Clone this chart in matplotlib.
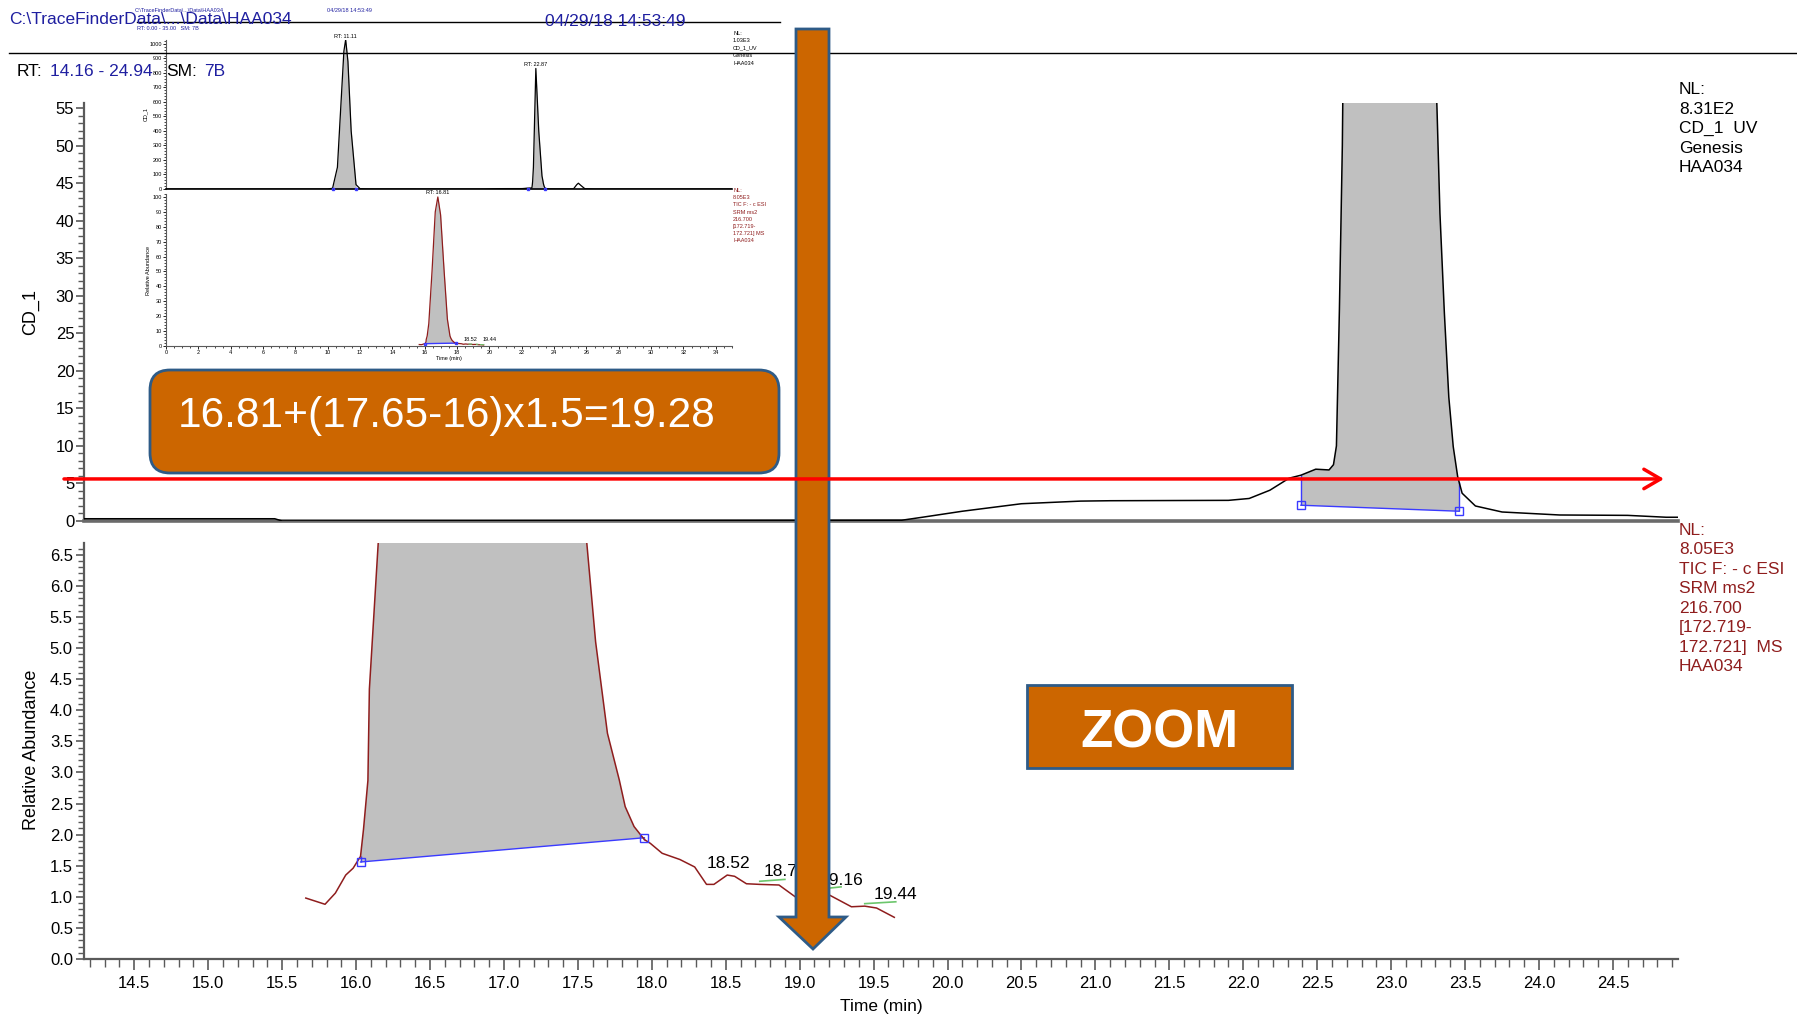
import numpy as np
import matplotlib
matplotlib.use("Agg")
import matplotlib.pyplot as plt
from matplotlib.lines import Line2D
from matplotlib.patches import FancyArrowPatch, FancyBboxPatch, Polygon, Rectangle
from matplotlib.ticker import FormatStrFormatter, MultipleLocator
from matplotlib.transforms import blended_transform_factory

# CD_1 UV trace (min, signal); the 22.87 peak goes far off the zoomed scale
cd1_time = [0.0, 10.0, 10.3, 10.6, 10.85, 11.0, 11.11, 11.25, 11.45, 11.75, 12.0, 12.5,
            14.16, 15.45, 15.5, 19.69, 19.83, 20.10, 20.50, 20.90, 21.10, 21.90, 22.04,
            22.18, 22.31, 22.39, 22.49, 22.58, 22.61, 22.63, 22.65, 22.67, 22.72, 22.87,
            23.05, 23.25, 23.31, 23.33, 23.36, 23.39, 23.42, 23.45, 23.48, 23.57, 23.75,
            24.14, 24.60, 24.86, 24.94, 25.2, 25.4, 25.5, 25.65, 25.9, 26.5, 35.0]
cd1_value = [0.0, 0.0, 5, 150, 650, 950, 1030, 880, 400, 30, 2, 0.3,
             0.3, 0.3, 0.0, 0.1, 0.5, 1.3, 2.3, 2.65, 2.7, 2.75, 3.0,
             4.1, 5.7, 6.1, 6.9, 6.8, 7.5, 10, 28, 50, 150, 831,
             400, 90, 55, 41, 27.7, 16.5, 9.9, 5.9, 3.7, 2.0, 1.2,
             0.8, 0.75, 0.5, 0.5, 1, 30, 40, 25, 2, 0, 0]

# TIC F: - c ESI SRM ms2 216.700 trace (min, relative abundance)
tic_time = [15.66, 15.79, 15.86, 15.93, 15.98, 16.03, 16.05, 16.08, 16.09, 16.15, 16.25,
            16.45, 16.65, 16.81, 16.98, 17.2, 17.4, 17.56, 17.62, 17.70, 17.78, 17.82,
            17.88, 17.95, 17.99, 18.07, 18.19, 18.29, 18.37, 18.42, 18.51, 18.56, 18.64,
            18.73, 18.86, 18.97, 19.08, 19.20, 19.35, 19.44, 19.52, 19.64]
tic_value = [0.98, 0.88, 1.06, 1.35, 1.46, 1.65, 2.08, 2.87, 4.34, 6.7, 15,
             50, 90, 100, 88, 50, 18, 6.7, 5.10, 3.63, 2.88, 2.45,
             2.13, 1.92, 1.86, 1.70, 1.60, 1.48, 1.20, 1.20, 1.35, 1.33, 1.21,
             1.20, 1.19, 1.00, 1.05, 1.03, 0.84, 0.85, 0.82, 0.67]

# integrated peaks: (start, start baseline, end, end baseline)
cd1_peak = (22.39, 2.1, 23.46, 1.3)
tic_peak = (16.03, 1.56, 17.95, 1.95)
inset_cd1_peaks = [(10.3, 0.0, 11.75, 0.0), (22.39, 0.0, 23.46, 0.0)]

# small labelled peaks in the TIC zoom
minor_labels = ["18.52", "18.75", "19.16", "19.44"]
minor_label_x = [18.52, 18.905, 19.28, 19.65]
minor_label_y = [1.53, 1.40, 1.27, 1.03]
green_x0 = [18.73, 19.20, 19.44]
green_x1 = [18.90, 19.28, 19.65]
green_y0 = [1.25, 1.14, 0.89]
green_y1 = [1.28, 1.16, 0.92]

threshold = 5.6
x_range = (14.16, 24.94)

W, H = 1797, 1018
BLUE_TXT = "#1f1fa0"
DARK_RED = "#8f1d1d"
ORANGE = "#cc6600"
EDGE = "#2e5b87"
FILL = "#c0c0c0"
PEAK_BLUE = "#3a3aff"
GREEN = "#6cc66c"
SPINE = "#5a5a5a"

plt.rcParams["font.family"] = ["Liberation Sans", "DejaVu Sans"]


def fx(x):
    return x / W


def fy(y):
    return 1 - y / H


def rect(left, top, right, bottom):
    return [fx(left), fy(bottom), (right - left) / W, (bottom - top) / H]


def inch(x, y):
    return (x / 100, (H - y) / 100)


def fill_peak(ax, t, v, peak, marker_size=6, verticals=True):
    x0, y0, x1, y1 = peak
    t = np.asarray(t, dtype=float)
    v = np.asarray(v, dtype=float)
    inside = (t > x0) & (t < x1)
    xs = np.concatenate([[x0], t[inside], [x1]])
    ys = np.interp(xs, t, v)
    base = np.interp(xs, [x0, x1], [y0, y1])
    ax.fill_between(xs, base, ys, color=FILL, lw=0, zorder=1)
    ax.plot([x0, x1], [y0, y1], color=PEAK_BLUE, lw=1, zorder=2)
    if verticals:
        ax.vlines([x0, x1], [y0, y1], np.interp([x0, x1], t, v), color=PEAK_BLUE, lw=1, zorder=2)
    ax.plot([x0, x1], [y0, y1], ls="none", marker="s", mfc="none", mec=PEAK_BLUE,
            ms=marker_size, mew=1, zorder=4, clip_on=False)


def style_axes(ax, lw=1.6):
    for side in ("top", "right"):
        ax.spines[side].set_visible(False)
    for side in ("left", "bottom"):
        ax.spines[side].set_color(SPINE)
        ax.spines[side].set_linewidth(lw)


fig = plt.figure(figsize=(W / 100, H / 100), dpi=100)

# ---- upper panel: CD_1 zoom ----
ax_cd = fig.add_axes(rect(84, 103, 1678, 521))
fill_peak(ax_cd, cd1_time, cd1_value, cd1_peak)
ax_cd.plot(cd1_time, cd1_value, color="black", lw=1.1, zorder=3)
ax_cd.set_xlim(*x_range)
ax_cd.set_ylim(0, 55.67)
style_axes(ax_cd)
ax_cd.spines["bottom"].set_linewidth(2.6)
ax_cd.spines["bottom"].set_color("#6a6a6a")
ax_cd.yaxis.set_major_locator(MultipleLocator(5))
ax_cd.yaxis.set_minor_locator(MultipleLocator(1))
ax_cd.tick_params(axis="x", bottom=False, labelbottom=False)
ax_cd.tick_params(axis="y", which="major", length=6, width=1.2, color=SPINE, labelsize=12, pad=1)
ax_cd.tick_params(axis="y", which="minor", length=4.5, width=1.0, color=SPINE)

# ---- lower panel: TIC zoom ----
ax_ms = fig.add_axes(rect(84, 543, 1678, 959))
fill_peak(ax_ms, tic_time, tic_value, tic_peak)
ax_ms.plot(tic_time, tic_value, color=DARK_RED, lw=1.1, zorder=3)
for xa, xb, ya, yb in zip(green_x0, green_x1, green_y0, green_y1):
    ax_ms.plot([xa, xb], [ya, yb], color=GREEN, lw=1.2, zorder=3)
for lab, lx, ly in zip(minor_labels, minor_label_x, minor_label_y):
    ax_ms.text(lx, ly, lab, ha="center", va="center", fontsize=12.5, zorder=4)
ax_ms.set_xlim(*x_range)
ax_ms.set_ylim(0, 6.69)
style_axes(ax_ms)
ax_ms.yaxis.set_major_locator(MultipleLocator(0.5))
ax_ms.yaxis.set_minor_locator(MultipleLocator(0.1))
ax_ms.yaxis.set_major_formatter(FormatStrFormatter("%.1f"))
ax_ms.xaxis.set_major_locator(MultipleLocator(0.5))
ax_ms.xaxis.set_minor_locator(MultipleLocator(0.1))
ax_ms.xaxis.set_major_formatter(FormatStrFormatter("%.1f"))
ax_ms.tick_params(axis="y", which="major", length=6, width=1.2, color=SPINE, labelsize=12, pad=2)
ax_ms.tick_params(axis="y", which="minor", length=4.5, width=1.0, color=SPINE)
ax_ms.tick_params(axis="x", which="major", length=8, width=1.2, color=SPINE, labelsize=12, pad=4)
ax_ms.tick_params(axis="x", which="minor", length=5.5, width=1.0, color=SPINE)

fig.text(fx(31), fy(312), "CD_1", rotation=90, ha="center", va="center", fontsize=13)
fig.text(fx(31), fy(750), "Relative Abundance", rotation=90, ha="center", va="center", fontsize=13)
fig.text(fx(881), fy(1006), "Time (min)", ha="center", va="center", fontsize=12.5)

# ---- inset: full 0-35 min chromatograms ----
ax_in1 = fig.add_axes(rect(166, 39.6, 732, 189))
for pk in inset_cd1_peaks:
    fill_peak(ax_in1, cd1_time, cd1_value, pk, marker_size=2, verticals=False)
ax_in1.plot(cd1_time, cd1_value, color="black", lw=0.9, zorder=3)
ax_in1.set_xlim(0, 35)
ax_in1.set_ylim(0, 1030)
style_axes(ax_in1, lw=0.8)
ax_in1.spines["bottom"].set_color("black")
ax_in1.spines["bottom"].set_linewidth(1.2)
ax_in1.yaxis.set_major_locator(MultipleLocator(100))
ax_in1.yaxis.set_minor_locator(MultipleLocator(20))
ax_in1.tick_params(axis="x", bottom=False, labelbottom=False)
ax_in1.tick_params(axis="y", which="major", length=2.2, width=0.6, labelsize=4, pad=0.5)
ax_in1.tick_params(axis="y", which="minor", length=1.2, width=0.5)
ax_in1.text(11.11, 1035, "RT: 11.11", ha="center", va="bottom", fontsize=4, clip_on=False)
ax_in1.text(22.87, 840, "RT: 22.87", ha="center", va="bottom", fontsize=4)
ax_in1.set_ylabel("CD_1", fontsize=4, labelpad=1)

ax_in2 = fig.add_axes(rect(166, 194, 732, 346))
fill_peak(ax_in2, tic_time, tic_value, tic_peak, marker_size=2, verticals=False)
ax_in2.plot(tic_time, tic_value, color=DARK_RED, lw=0.9, zorder=3)
for xa, xb, ya, yb in zip(green_x0, green_x1, green_y0, green_y1):
    ax_in2.plot([xa, xb], [ya, yb], color=GREEN, lw=0.8, zorder=3)
ax_in2.set_xlim(0, 35)
ax_in2.set_ylim(0, 102)
style_axes(ax_in2, lw=0.8)
ax_in2.yaxis.set_major_locator(MultipleLocator(10))
ax_in2.yaxis.set_minor_locator(MultipleLocator(2))
ax_in2.xaxis.set_major_locator(MultipleLocator(2))
ax_in2.xaxis.set_minor_locator(MultipleLocator(0.5))
ax_in2.tick_params(which="major", length=2.2, width=0.6, labelsize=4, pad=0.5)
ax_in2.tick_params(which="minor", length=1.2, width=0.5)
ax_in2.text(16.81, 101, "RT: 16.81", ha="center", va="bottom", fontsize=4, clip_on=False)
ax_in2.text(18.8, 2.5, "18.52", ha="center", va="bottom", fontsize=4)
ax_in2.text(20.0, 2.5, "19.44", ha="center", va="bottom", fontsize=4)
ax_in2.set_ylabel("Relative Abundance", fontsize=4, labelpad=1)
ax_in2.set_xlabel("Time (min)", fontsize=4, labelpad=1)

fig.text(fx(733), fy(31), "NL:\n1.03E3\nCD_1_UV\nGenesis\nHAA034", fontsize=4,
         ha="left", va="top", linespacing=1.6)
fig.text(fx(733), fy(188), "NL:\n8.05E3\nTIC F: - c ESI\nSRM ms2\n216.700\n[172.719-\n172.721] MS\nHAA034",
         fontsize=4, ha="left", va="top", linespacing=1.55, color=DARK_RED)
fig.text(fx(135), fy(10), r"C:\TraceFinderData\...\Data\HAA034", fontsize=4, color=BLUE_TXT, va="center")
fig.text(fx(327), fy(10), "04/29/18 14:53:49", fontsize=4, color=BLUE_TXT, va="center")
fig.text(fx(137), fy(28), "RT: 0.00 - 35.00   SM: 7B", fontsize=4, color=BLUE_TXT, va="center")

# ---- header ----
fig.text(fx(9), fy(20), r"C:\TraceFinderData\...\Data\HAA034", fontsize=12.5, color=BLUE_TXT, va="center")
fig.text(fx(615), fy(21), "04/29/18 14:53:49", fontsize=12.5, color=BLUE_TXT, va="center", ha="center")
fig.text(fx(17), fy(71), "RT:", fontsize=12.5, va="center")
fig.text(fx(50), fy(71), "14.16 - 24.94", fontsize=12.5, color=BLUE_TXT, va="center")
fig.text(fx(166), fy(71), "SM:", fontsize=12.5, va="center")
fig.text(fx(204), fy(71), "7B", fontsize=12.5, color=BLUE_TXT, va="center")
fig.add_artist(Line2D([fx(137), fx(780)], [fy(22), fy(22)], color="black", lw=1, zorder=2))
fig.add_artist(Line2D([fx(9), fx(1797)], [fy(53), fy(53)], color="black", lw=1, zorder=2))

fig.text(fx(1679), fy(82), "NL:\n8.31E2\nCD_1  UV\nGenesis\nHAA034", fontsize=12.5,
         ha="left", va="top", linespacing=1.38)
fig.text(fx(1679), fy(523), "NL:\n8.05E3\nTIC F: - c ESI\nSRM ms2\n216.700\n[172.719-\n172.721]  MS\nHAA034",
         fontsize=12.5, ha="left", va="top", linespacing=1.37, color=DARK_RED)

# ---- annotations: big arrow, formula box, ZOOM box, threshold line ----
arrow_px = [(796, 29), (829, 29), (829, 917), (846, 917), (813, 949), (779, 917), (796, 917)]
fig.patches.append(Polygon([inch(x, y) for x, y in arrow_px], closed=True, facecolor=ORANGE,
                           edgecolor=EDGE, lw=2, transform=fig.dpi_scale_trans, zorder=3))

fig.patches.append(FancyBboxPatch(inch(150, 473), 6.29, 1.03,
                                  boxstyle="round,pad=0,rounding_size=0.2", facecolor=ORANGE,
                                  edgecolor=EDGE, lw=2, transform=fig.dpi_scale_trans, zorder=3))
fig.text(fx(178), fy(416), "16.81+(17.65-16)x1.5=19.28", fontsize=30.5, color="white",
         va="center", ha="left", zorder=5)

fig.patches.append(Rectangle(inch(1027, 768), 2.65, 0.83, facecolor=ORANGE, edgecolor=EDGE,
                             lw=2, transform=fig.dpi_scale_trans, zorder=3))
fig.text(fx(1159), fy(733), "ZOOM", fontsize=38, color="white", fontweight="bold",
         va="center", ha="center", zorder=5)

red = FancyArrowPatch((fx(64), threshold), (fx(1664), threshold),
                      arrowstyle="->,head_length=0.6,head_width=0.35", mutation_scale=20,
                      color="red", lw=2.5, shrinkA=0, shrinkB=0,
                      transform=blended_transform_factory(fig.transFigure, ax_cd.transData),
                      zorder=4)
fig.add_artist(red)

fig.savefig("out.png", dpi=100)
